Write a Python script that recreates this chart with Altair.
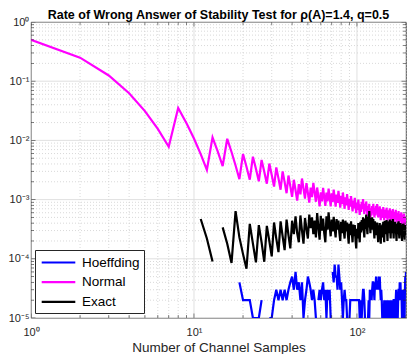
import altair as alt
import pandas as pd

# ---------------- data ----------------
n_samples = list(range(1, 201))

normal_rate = [
    0.5, 0.25, 0.125, 0.0625, 0.03125, 0.015625, 0.0078125, 0.03516, 0.01953, 0.01074,
    0.00586, 0.00317, 0.01123, 0.00647, 0.00369, 0.01064, 0.00636, 0.00377, 0.00221, 0.00591,
    0.0036, 0.00217, 0.00531, 0.00331, 0.00204, 0.00468, 0.00296, 0.00186, 0.00407, 0.00261,
    0.00166, 0.0035, 0.00228, 0.00147, 0.003, 0.00197, 0.00128, 0.00255, 0.00169, 0.00111,
    0.00216, 0.00144, 0.00096, 0.00183, 0.00123, 0.00227, 0.00154, 0.00104, 0.0019, 0.0013,
    0.00089, 0.00159, 0.0011, 0.00192, 0.00133, 0.00092, 0.0016, 0.00112, 0.00077, 0.00133,
    0.00093, 0.00158, 0.00111, 0.00078, 0.00131, 0.00093, 0.00153, 0.00109, 0.00077, 0.00127,
    0.00091, 0.00147, 0.00106, 0.00076, 0.00122, 0.00088, 0.0014, 0.00101, 0.00073, 0.00116,
    0.00084, 0.00132, 0.00096, 0.0007, 0.00109, 0.0008, 0.00124, 0.00091, 0.00067, 0.00103,
    0.00076, 0.00115, 0.00085, 0.00063, 0.00096, 0.00071, 0.00107, 0.0008, 0.00059, 0.00089,
    0.00067, 0.001, 0.00074, 0.00055, 0.00083, 0.00062, 0.00092, 0.00069, 0.00102, 0.00077,
    0.00057, 0.00085, 0.00064, 0.00093, 0.0007, 0.00053, 0.00078, 0.00059, 0.00085, 0.00065,
    0.00049, 0.00071, 0.00054, 0.00078, 0.00059, 0.00085, 0.00065, 0.0005, 0.00071, 0.00054,
    0.00078, 0.0006, 0.00084, 0.00065, 0.0005, 0.00071, 0.00054, 0.00077, 0.00059, 0.00045,
    0.00064, 0.00049, 0.00069, 0.00054, 0.00075, 0.00058, 0.00045, 0.00063, 0.00049, 0.00068,
    0.00053, 0.00073, 0.00057, 0.00044, 0.00062, 0.00048, 0.00066, 0.00052, 0.00071, 0.00056,
    0.00043, 0.0006, 0.00047, 0.00065, 0.00051, 0.00069, 0.00054, 0.00042, 0.00058, 0.00046,
    0.00062, 0.00049, 0.00067, 0.00053, 0.00041, 0.00056, 0.00044, 0.0006, 0.00047, 0.00064,
    0.00051, 0.0004, 0.00054, 0.00043, 0.00057, 0.00045, 0.00061, 0.00048, 0.00038, 0.00052,
    0.00041, 0.00055, 0.00044, 0.00058, 0.00046, 0.00037, 0.00049, 0.00039, 0.00052, 0.00042,
]

exact_rate = [
    None, None, None, None, None, None, None, None, None, None,
    4.7e-4, 2.2e-4, 9.0e-5, None, 3.4e-4, 1.8e-4, 8.5e-5, 6.4e-4, 2.3e-4, 1.2e-4,
    6.8e-5, 3.9e-4, 1.8e-4, 8.7e-5, 3.7e-4, 1.9e-4, 8.9e-5, 3.6e-4, 2.0e-4, 1.1e-4,
    4.1e-4, 2.2e-4, 1.3e-4, 4.3e-4, 2.4e-4, 1.4e-4, 4.6e-4, 2.5e-4, 1.5e-4, 4.4e-4,
    2.6e-4, 5.2e-4, 2.7e-4, 1.9e-4, 5.4e-4, 3.0e-4, 1.8e-4, 4.9e-4, 3.2e-4, 2.2e-4,
    5.6e-4, 3.3e-4, 5.0e-4, 2.6e-4, 4.4e-4, 2.3e-4, 5.9e-4, 3.4e-4, 2.1e-4, 5.3e-4,
    3.0e-4, 4.8e-4, 2.7e-4, 1.9e-4, 5.2e-4, 3.1e-4, 6.1e-4, 3.6e-4, 2.4e-4, 4.6e-4,
    2.9e-4, 5.1e-4, 3.3e-4, 2.3e-4, 4.7e-4, 3.1e-4, 4.4e-4, 2.8e-4, 2.0e-4, 4.2e-4,
    2.7e-4, 4.6e-4, 3.0e-4, 2.2e-4, 4.4e-4, 2.9e-4, 4.1e-4, 2.6e-4, 1.8e-4, 3.9e-4,
    2.5e-4, 4.3e-4, 2.8e-4, 1.9e-4, 3.8e-4, 2.4e-4, 3.7e-4, 2.1e-4, 1.5e-4, 3.2e-4,
    2.2e-4, 4.0e-4, 2.6e-4, 1.9e-4, 4.2e-4, 2.8e-4, 4.5e-4, 3.0e-4, 5.0e-4, 3.1e-4,
    2.3e-4, 4.8e-4, 3.2e-4, 5.6e-4, 3.5e-4, 2.6e-4, 5.2e-4, 3.4e-4, 6.4e-4, 3.9e-4,
    2.7e-4, 4.9e-4, 3.2e-4, 5.0e-4, 3.1e-4, 4.7e-4, 3.0e-4, 2.2e-4, 4.3e-4, 2.8e-4,
    4.0e-4, 2.5e-4, 4.1e-4, 2.6e-4, 1.9e-4, 3.7e-4, 2.4e-4, 4.0e-4, 2.6e-4, 1.8e-4,
    3.6e-4, 2.3e-4, 3.8e-4, 2.5e-4, 4.2e-4, 2.7e-4, 1.9e-4, 4.4e-4, 2.8e-4, 4.1e-4,
    2.6e-4, 4.5e-4, 2.9e-4, 2.0e-4, 4.0e-4, 2.7e-4, 4.3e-4, 2.8e-4, 4.6e-4, 3.0e-4,
    2.2e-4, 4.1e-4, 2.7e-4, 4.4e-4, 2.9e-4, 4.7e-4, 3.1e-4, 2.2e-4, 4.0e-4, 2.7e-4,
    4.2e-4, 2.8e-4, 3.9e-4, 2.6e-4, 2.0e-4, 3.8e-4, 2.6e-4, 4.1e-4, 2.7e-4, 4.3e-4,
    2.9e-4, 2.2e-4, 3.9e-4, 2.6e-4, 4.0e-4, 2.7e-4, 3.8e-4, 2.6e-4, 2.0e-4, 3.7e-4,
    2.5e-4, 3.9e-4, 2.6e-4, 3.8e-4, 2.5e-4, 2.1e-4, 3.6e-4, 2.5e-4, 3.7e-4, 2.6e-4,
]

hoeffding_rate = [
    None, None, None, None, None, None, None, None, None, None,
    None, None, None, None, None, None, None, None, 4e-5, 2e-5,
    2e-5, 2e-5, 1e-5, 1e-5, 1e-5, 2e-5, None, None, 1e-5, 1e-5,
    2e-5, 3e-5, 2e-5, 3e-5, 2e-5, 3e-5, 2e-5, 3e-5, 4e-5, 5e-5,
    3e-5, 6e-5, 3e-5, 4e-5, 2e-5, 4e-5, 1e-5, 2e-5, 3e-5, 5e-5,
    4e-5, 3e-5, 2e-5, 3e-5, 2e-5, 1e-5, None, 2e-5, 3e-5, 2e-5,
    3e-5, 4e-5, 2e-5, 3e-5, 1e-5, 3e-5, 2e-5, 3e-5, 1e-5, None,
    6e-5, 4e-5, 8e-5, 5e-5, 5e-5, 3e-5, 8e-5, 5e-5, 3e-5, 4e-5,
    2e-5, 1e-5, 2e-5, 3e-5, 2e-5, 2e-5, 1e-5, 1e-5, None, 1e-5,
    2e-5, 2e-5, 2e-5, 2e-5, 2e-5, 2e-5, 2e-5, 2e-5, 2e-5, 2e-5,
    2e-5, 2e-5, 2e-5, 1e-5, 2e-5, 1e-5, 1e-5, 2e-5, 3e-5, 3e-5,
    2e-5, 1e-5, None, None, 1e-5, None, 1e-5, 2e-5, 1e-5, 3e-5,
    2e-5, 3e-5, 2e-5, 3e-5, 4e-5, 4e-5, 3e-5, 2e-5, 4e-5, 3e-5,
    5e-5, 3e-5, 4e-5, 4e-5, 3e-5, 5e-5, 4e-5, 5e-5, 3e-5, 2e-5,
    3e-5, 2e-5, 1e-5, 1e-5, None, 1e-5, 2e-5, 1e-5, 2e-5, 1e-5,
    2e-5, 1e-5, 2e-5, 1e-5, 1e-5, 2e-5, 1e-5, None, None, 1e-5,
    2e-5, 1e-5, 2e-5, 1e-5, 1e-5, 2e-5, 1e-5, 2e-5, 2e-5, 1e-5,
    2e-5, 1e-5, 2e-5, 3e-5, 2e-5, 1e-5, None, 1e-5, 2e-5, 3e-5,
    3e-5, 2e-5, 4e-5, 3e-5, 4e-5, 2e-5, 3e-5, 2e-5, 1e-5, 1e-5,
    2e-5, 3e-5, 2e-5, 3e-5, 2e-5, 1e-5, 3e-5, 5e-5, 4e-5, 6e-5,
]

series_names = ["Hoeffding", "Normal", "Exact"]
series_colors = ["#0000ff", "#ff00ff", "#000000"]

x_major = [1, 10, 100]
x_minor = [2, 3, 4, 5, 6, 7, 8, 9, 20, 30, 40, 50, 60, 70, 80, 90, 200]
y_major = [1e-5, 1e-4, 1e-3, 1e-2, 1e-1, 1]
y_minor = [k * 10.0 ** e for e in range(-5, 0) for k in range(2, 10)]

title_text = "Rate of Wrong Answer of Stability Test for \u03c1(A)=1.4, q=0.5"
x_title = "Number of Channel Samples"

# ---------------- build ----------------
W, H = 375, 296
FONT = "Liberation Sans"

rows = []
for name, vals in zip(series_names, [hoeffding_rate, normal_rate, exact_rate]):
    for n, v in zip(n_samples, vals):
        rows.append({"n": n, "rate": v, "series": name})
df = pd.DataFrame(rows)

xs = alt.Scale(type="log", domain=[1, 200], nice=False)
ys = alt.Scale(type="log", domain=[1e-5, 1], nice=False)
cs = alt.Scale(domain=series_names, range=series_colors)

x_axis = alt.Axis(
    values=x_major,
    labelExpr="datum.value < 5 ? '10\u2070' : (datum.value < 50 ? '10\u00b9' : '10\u00b2')",
    grid=False, ticks=False, domain=False,
    labelFont=FONT, labelFontSize=11, labelColor="#262626", labelPadding=8,
    labelFlush=False, labelOverlap=False,
    title=x_title, titleFont=FONT, titleFontSize=13.5, titleFontWeight="normal",
    titleColor="#262626", titleY=33, titleBaseline="alphabetic",
)
y_axis = alt.Axis(
    values=y_major,
    labelExpr="['10\u2070','10\u207b\u00b9','10\u207b\u00b2','10\u207b\u00b3','10\u207b\u2074','10\u207b\u2075'][round(-log(datum.value)/LN10)]",
    grid=False, ticks=False, domain=False,
    labelFont=FONT, labelFontSize=11, labelColor="#262626", labelPadding=2,
    labelFlush=False, labelOverlap=False, title=None,
)
legend = alt.Legend(
    title=None, orient="none", legendX=4, legendY=228,
    symbolType="M-2.4,0L2.4,0", symbolStrokeWidth=2.2, symbolSize=196,
    symbolOffset=11, labelOffset=15,
    labelFont=FONT, labelFontSize=13.5, labelColor="#000000",
    fillColor="#ffffff", strokeColor="#262626", padding=4, rowPadding=4.7,
)

grid_layers = []
for vals, color, dash, width in [(x_minor, "#cfcfcf", [1, 2], 0.8), (x_major, "#dcdcdc", [1, 0], 0.9)]:
    grid_layers.append(
        alt.Chart(pd.DataFrame({"v": vals}))
        .mark_rule(color=color, strokeDash=dash, strokeWidth=width)
        .encode(x=alt.X("v:Q", scale=xs, axis=x_axis))
    )
for vals, color, dash, width in [(y_minor, "#cfcfcf", [1, 2], 0.8), (y_major, "#dcdcdc", [1, 0], 0.9)]:
    grid_layers.append(
        alt.Chart(pd.DataFrame({"v": vals}))
        .mark_rule(color=color, strokeDash=dash, strokeWidth=width)
        .encode(y=alt.Y("v:Q", scale=ys, axis=y_axis))
    )

line_layers = []
for name in series_names:
    line_layers.append(
        alt.Chart(df)
        .transform_filter(alt.datum.series == name)
        .mark_line(strokeWidth=2.2, clip=True, invalid="break-paths-show-domains")
        .encode(
            x=alt.X("n:Q", scale=xs, axis=x_axis),
            y=alt.Y("rate:Q", scale=ys, axis=y_axis),
            color=alt.Color("series:N", scale=cs, legend=legend),
        )
    )

tick_x = pd.DataFrame({"v": x_major + x_minor, "len": [9] * len(x_major) + [6] * len(x_minor)})
tick_y = pd.DataFrame({"v": y_major + y_minor, "len": [9] * len(y_major) + [6] * len(y_minor)})
tick_layers = []
for ypos in [0, H]:
    tick_layers.append(
        alt.Chart(tick_x)
        .mark_tick(color="#262626", thickness=0.8, clip=True, orient="vertical")
        .encode(x=alt.X("v:Q", scale=xs, axis=x_axis), y=alt.value(ypos),
                size=alt.Size("len:Q", scale=None, legend=None))
    )
for xpos in [0, W]:
    tick_layers.append(
        alt.Chart(tick_y)
        .mark_tick(color="#262626", thickness=0.8, clip=True, orient="horizontal")
        .encode(y=alt.Y("v:Q", scale=ys, axis=y_axis), x=alt.value(xpos),
                size=alt.Size("len:Q", scale=None, legend=None))
    )

title_layer = (
    alt.Chart(pd.DataFrame({"t": [title_text]}))
    .mark_text(font=FONT, fontSize=12.5, fontWeight="bold", color="#000000",
               align="center", baseline="alphabetic")
    .encode(text="t:N", x=alt.value(W / 2), y=alt.value(-3.5))
)

chart = (
    alt.layer(*grid_layers, *line_layers, *tick_layers, title_layer)
    .properties(
        width=W, height=H,
        padding={"left": 23, "top": 14, "right": 1, "bottom": 36},
        autosize=alt.AutoSizeParams(type="none"),
    )
    .configure_view(stroke="#262626", strokeWidth=0.8)
)

chart.save("out.html", embed_options={"renderer": "svg", "actions": False})
